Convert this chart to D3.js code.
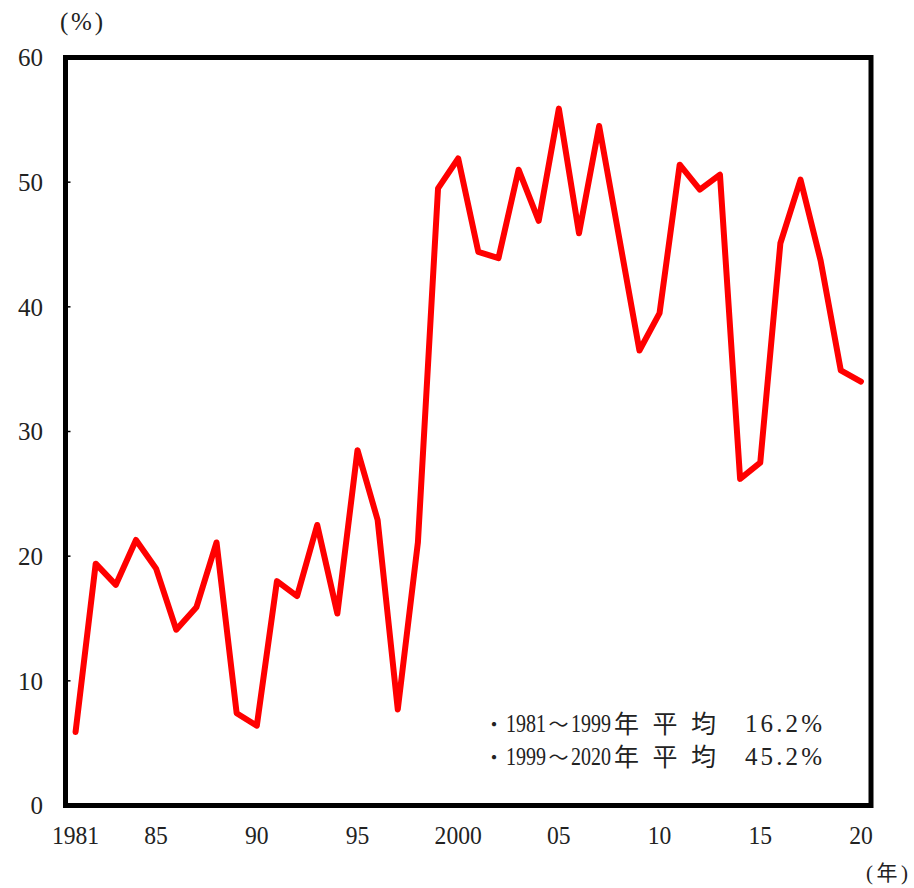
<!DOCTYPE html>
<html>
<head>
<meta charset="utf-8">
<script src="https://cdn.jsdelivr.net/npm/d3@7"></script>
<style>
  html, body { margin: 0; padding: 0; background: #fff; }
  svg { display: block; }
  .num { font-family: "Liberation Serif", "DejaVu Serif", serif; fill: #222; }
  .jp { font-family: "Noto Sans CJK JP", "Noto Sans", sans-serif; fill: #222; }
</style>
</head>
<body>
<svg id="chart" width="914" height="888"></svg>
<script>
// Annual values (%), 1981–2020
const years = d3.range(1981, 2021);
const values = [
  5.9, 19.4, 17.7, 21.3, 19.0, 14.1, 15.9, 21.1, 7.4, 6.4,
  18.0, 16.8, 22.5, 15.4, 28.5, 22.9, 7.7, 21.1, 49.5, 51.9,
  44.4, 43.9, 51.0, 46.9, 55.9, 45.9, 54.5, 45.5, 36.5, 39.5,
  51.4, 49.4, 50.6, 26.2, 27.5, 45.1, 50.2, 43.7, 34.9, 34.0
];
const yTicks = [0, 10, 20, 30, 40, 50, 60];
const xTicks = [1981, 1985, 1990, 1995, 2000, 2005, 2010, 2015, 2020];
const xTickLabels = ["1981", "85", "90", "95", "2000", "05", "10", "15", "20"];
const noteFrom = ["1981", "1999"];
const noteTo = ["1999", "2020"];
const noteValues = ["16.2%", "45.2%"];

const svg = d3.select("#chart");
const plotL = 65.5, plotR = 871, plotT = 57.5, plotB = 805.5;

const x = d3.scaleLinear().domain([1980.5, 2020.5]).range([plotL, plotR]);
const y = d3.scaleLinear().domain([0, 60]).range([plotB, plotT]);

// y tick labels
svg.append("g").selectAll("text").data(yTicks).join("text")
  .attr("class", "num")
  .attr("x", 43)
  .attr("y", d => y(d))
  .attr("dy", "0.35em")
  .attr("text-anchor", "end")
  .attr("font-size", 25)
  .text(d => d);

// inner y ticks
svg.append("g").selectAll("line").data(yTicks.slice(1, -1)).join("line")
  .attr("x1", plotL).attr("x2", plotL + 5)
  .attr("y1", d => y(d)).attr("y2", d => y(d))
  .attr("stroke", "#000").attr("stroke-width", 1.5);

// x tick labels
svg.append("g").selectAll("text").data(xTicks).join("text")
  .attr("class", "num")
  .attr("x", d => x(d))
  .attr("y", 844)
  .attr("text-anchor", "middle")
  .attr("font-size", 25)
  .attr("textLength", (d, i) => xTickLabels[i].length * 11.8)
  .attr("lengthAdjust", "spacingAndGlyphs")
  .text((d, i) => xTickLabels[i]);

// unit labels
svg.append("text").attr("class", "num").attr("x", 60).attr("y", 30)
  .attr("font-size", 25).attr("textLength", 43).attr("lengthAdjust", "spacing")
  .text("(%)");
svg.append("text").attr("x", 866).attr("y", 880).attr("font-size", 21)
  .attr("textLength", 42).attr("lengthAdjust", "spacing")
  .call(t => {
    t.append("tspan").attr("class", "num").text("(");
    t.append("tspan").attr("class", "jp").text("年");
    t.append("tspan").attr("class", "num").text(")");
  });

// data line
const line = d3.line().x((d, i) => x(years[i])).y(d => y(d));
svg.append("path")
  .datum(values)
  .attr("d", line)
  .attr("fill", "none")
  .attr("stroke", "#ff0000")
  .attr("stroke-width", 6)
  .attr("stroke-linejoin", "round")
  .attr("stroke-linecap", "round");

// frame
svg.append("rect")
  .attr("x", plotL).attr("y", plotT)
  .attr("width", plotR - plotL).attr("height", plotB - plotT)
  .attr("fill", "none").attr("stroke", "#000").attr("stroke-width", 5);

// average notes (narrow digits via horizontal scale)
const notes = svg.append("g");
noteFrom.forEach((from, i) => {
  const yy = 732 + i * 33;
  notes.append("text").attr("class", "jp").attr("x", 484).attr("y", yy)
    .attr("font-size", 20).text("・");
  notes.append("text").attr("class", "num")
    .attr("transform", `translate(506,${yy}) scale(0.8,1)`)
    .attr("font-size", 25).text(from);
  notes.append("text").attr("class", "jp").attr("x", 548.5).attr("y", yy)
    .attr("font-size", 20).text("～");
  notes.append("text").attr("class", "num")
    .attr("transform", `translate(571,${yy}) scale(0.8,1)`)
    .attr("font-size", 25).text(noteTo[i]);
  notes.append("text").attr("class", "jp").attr("x", 614).attr("y", yy + 1)
    .attr("font-size", 25).attr("textLength", 102).attr("lengthAdjust", "spacing")
    .text("年平均");
  notes.append("text").attr("class", "num").attr("x", 745).attr("y", yy)
    .attr("font-size", 25).attr("textLength", 77).attr("lengthAdjust", "spacing")
    .text(noteValues[i]);
});
</script>
</body>
</html>
